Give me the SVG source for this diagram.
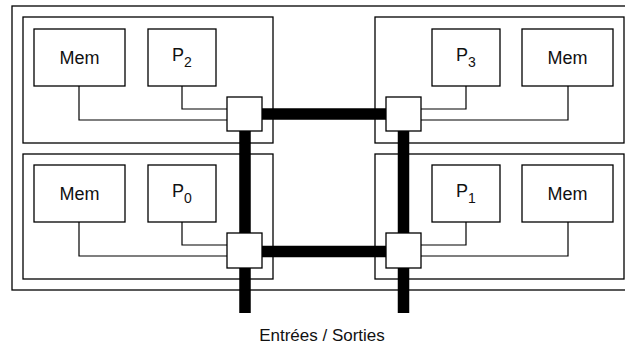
<svg xmlns="http://www.w3.org/2000/svg" width="625" height="347" viewBox="0 0 625 347">
<style>
.box{fill:none;stroke:#000;stroke-width:1.3}
.nb{fill:#fff;stroke:#000;stroke-width:1.3}
.sw{fill:#fff;stroke:#000;stroke-width:1.3}
.thin{fill:none;stroke:#000;stroke-width:1.2}
.bus{fill:none;stroke:#000;stroke-width:11.5}
text{font-family:"Liberation Sans",Arial,sans-serif;font-size:18px;fill:#111;text-anchor:middle}
.sub{font-size:14px}
</style>
<rect width="625" height="347" fill="#fff"/>
<g id="outer"><rect class="box" x="12" y="6" width="630" height="284"/></g>
<g id="module-2"><rect class="box" x="23" y="17" width="250" height="126"/></g>
<g id="module-3"><rect class="box" x="375" y="17" width="249" height="126"/></g>
<g id="module-0"><rect class="box" x="23" y="154" width="250" height="125"/></g>
<g id="module-1"><rect class="box" x="375" y="154" width="249" height="125"/></g>
<g id="connectors">
<path class="thin" d="M182 86V109H227M79 86V120H227"/>
<path class="thin" d="M466 86V109H421M568 86V120H421"/>
<path class="thin" d="M182 222V245H227M79 222V256H227"/>
<path class="thin" d="M466 222V245H421M568 222V256H421"/>
<path class="bus" d="M262 114H386M262 251.5H386M245 131V313M403.5 131V313"/>
</g>
<g id="mem-2"><rect class="nb" x="34" y="29" width="91" height="57"/><text x="79.5" y="64">Mem</text></g>
<g id="p-2"><rect class="nb" x="148" y="29" width="68" height="57"/><text x="182" y="61">P<tspan class="sub" dy="6">2</tspan></text></g>
<g id="p-3"><rect class="nb" x="432" y="29" width="68" height="57"/><text x="466" y="61">P<tspan class="sub" dy="6">3</tspan></text></g>
<g id="mem-3"><rect class="nb" x="522" y="29" width="91" height="57"/><text x="567.5" y="64">Mem</text></g>
<g id="mem-0"><rect class="nb" x="34" y="165" width="91" height="57"/><text x="79.5" y="200">Mem</text></g>
<g id="p-0"><rect class="nb" x="148" y="165" width="68" height="57"/><text x="182" y="197">P<tspan class="sub" dy="6">0</tspan></text></g>
<g id="p-1"><rect class="nb" x="432" y="165" width="68" height="57"/><text x="466" y="197">P<tspan class="sub" dy="6">1</tspan></text></g>
<g id="mem-1"><rect class="nb" x="522" y="165" width="91" height="57"/><text x="567.5" y="200">Mem</text></g>
<g id="switch-2"><rect class="sw" x="227" y="97" width="35" height="34"/></g>
<g id="switch-3"><rect class="sw" x="386" y="97" width="35" height="34"/></g>
<g id="switch-0"><rect class="sw" x="227" y="233" width="35" height="35"/></g>
<g id="switch-1"><rect class="sw" x="386" y="233" width="35" height="35"/></g>
<g id="io-label"><text x="322" y="341" style="font-size:17px">Entrées / Sorties</text></g>
</svg>
